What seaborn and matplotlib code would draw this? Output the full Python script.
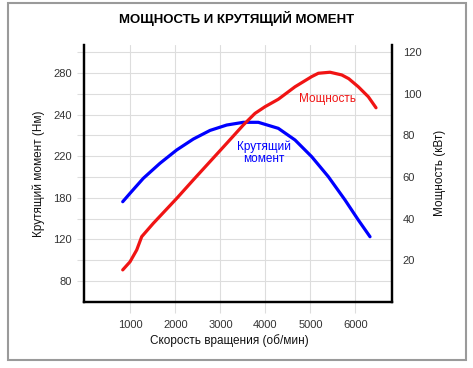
import numpy as np
import pandas as pd
import matplotlib
matplotlib.use("Agg")
import matplotlib.pyplot as plt
from matplotlib.patches import Rectangle
import seaborn as sns

# данные
rpm_torque = [830, 992, 1287, 1658, 2029, 2398, 2769, 3140, 3508, 3842, 4286, 4657, 5028, 5397, 5767, 6063, 6323]
torque = [156.2, 164.3, 178.7, 193.2, 206.0, 216.5, 224.8, 230.0, 232.6, 232.6, 226.8, 215.6, 199.5, 180.3, 157.9, 138.6, 122.5]

rpm_power = [830, 992, 1141, 1252, 1509, 2029, 2398, 2769, 3140, 3508, 3768, 3990, 4286, 4657, 5028, 5175, 5434, 5694, 5850, 6063, 6285, 6456]
power = [15.3, 19.2, 24.9, 31.3, 37.7, 49.7, 58.6, 67.4, 76.2, 85.0, 90.6, 93.8, 97.4, 103.4, 108.3, 109.9, 110.4, 109.1, 107.3, 103.4, 98.6, 93.3]

x_ticks = [1000, 2000, 3000, 4000, 5000, 6000]
torque_tick_pos = [80, 120, 160, 200, 240, 280]
torque_tick_labels = ["80", "120", "180", "220", "240", "280"]
power_ticks = [20, 40, 60, 80, 100, 120]

df_t = pd.DataFrame({"rpm": rpm_torque, "torque": torque})
df_p = pd.DataFrame({"rpm": rpm_power, "power": power})

sns.set_theme(style="white")
plt.rcParams['font.family'] = ['Liberation Sans', 'DejaVu Sans']

fig = plt.figure(figsize=(4.73, 3.68), dpi=100)
fig.patches.append(Rectangle((8 / 473, 1 - 360 / 368), 458 / 473, 357 / 368,
                             transform=fig.transFigure, fill=False,
                             edgecolor="#9a9a9a", linewidth=1.5, zorder=0))

ax = fig.add_axes([84 / 473, 66.3 / 368, 307.5 / 473, 256.7 / 368])
ax2 = ax.twinx()

sns.lineplot(data=df_t, x="rpm", y="torque", ax=ax, color="#0000ff", linewidth=2.3,
             solid_joinstyle="round")
sns.lineplot(data=df_p, x="rpm", y="power", ax=ax2, color="#f01414", linewidth=2.3,
             solid_joinstyle="round")

ax.set_xlim(-30, 6800)
ax.set_ylim(60, 307)
ax2.set_ylim(0, 123.5)

ax.set_xticks(x_ticks)
ax.set_xticklabels([str(v) for v in x_ticks])
ax.set_yticks(torque_tick_pos)
ax.set_yticklabels(torque_tick_labels)
ax.set_yticks(np.arange(100, 301, 40), minor=True)
ax2.set_yticks(power_ticks)
ax2.set_yticklabels([str(v) for v in power_ticks])

ax.grid(True, which="both", color="#dddddd", linewidth=0.8)
ax.set_axisbelow(True)
ax2.grid(False)

ax.tick_params(axis="y", which="both", left=True, length=5, color="#dddddd",
               width=0.8, pad=3.5, labelsize=8, labelcolor="#333333")
ax.tick_params(axis="x", which="both", bottom=True, length=8, color="#dddddd",
               width=0.8, pad=5, labelsize=8, labelcolor="#333333")
ax2.tick_params(axis="y", right=True, length=0, pad=8, labelsize=8, labelcolor="#333333")

for a in (ax, ax2):
    a.spines["top"].set_visible(False)
    for s in ("left", "right", "bottom"):
        a.spines[s].set_color("black")
        a.spines[s].set_linewidth(1.6)

ax.set_xlabel("Скорость вращения (об/мин)", fontsize=8.5, color="#111111")
ax.xaxis.set_label_coords(0.472, -0.125)
ax.set_ylabel("Крутящий момент (Нм)", fontsize=8.5, color="#111111", labelpad=6)
ax2.set_ylabel("Мощность (кВт)", fontsize=8.5, color="#111111", labelpad=9)

ax2.text(5368, 97.5, "Мощность", color="#f01414", fontsize=8.5, ha="center", va="center")
ax.text(3957, 203.3, "Крутящий\nмомент", color="#0000ff", fontsize=8.5,
        ha="center", va="center", linespacing=1.05)

fig.text(237 / 473, 1 - 19 / 368, "МОЩНОСТЬ И КРУТЯЩИЙ МОМЕНТ", ha="center", va="center",
         fontsize=9.5, fontweight="bold", color="black")

fig.savefig("out.png", dpi=100, facecolor="white")
